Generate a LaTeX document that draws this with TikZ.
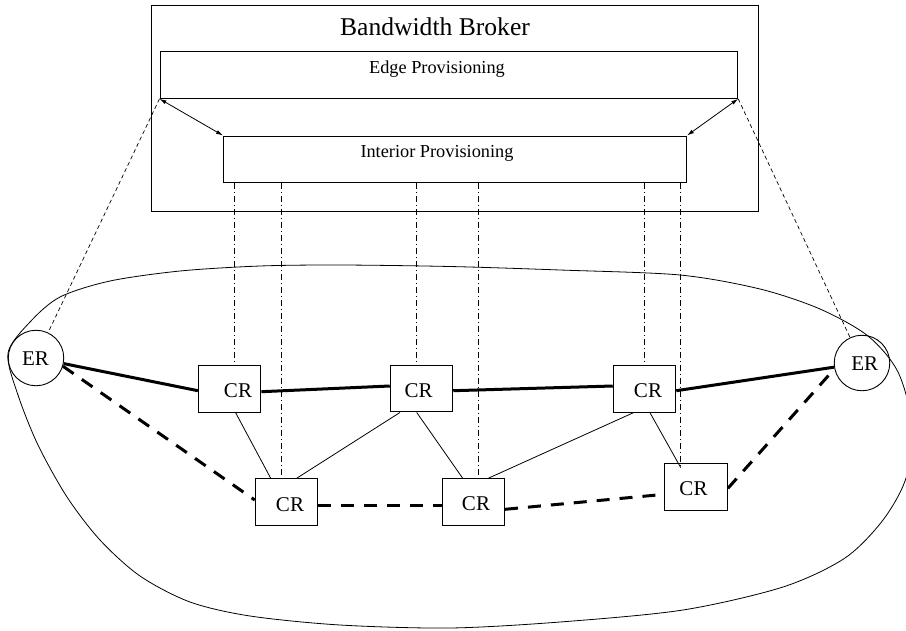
\documentclass[tikz,border=0pt]{standalone}
\usepackage{fontspec}
\setmainfont{Liberation Serif}
\usetikzlibrary{arrows.meta}

\tikzset{
  panel/.style={draw, line width=1pt, rectangle, inner sep=0pt},
  router/.style={draw, line width=1pt, rectangle, inner sep=0pt,
    minimum width=62.5pt, minimum height=46.5pt},
  edgerouter/.style={draw, line width=0.9pt, circle, inner sep=0pt,
    minimum size=55.5pt},
  routertext/.style={anchor=base, inner sep=0pt, font=\fontsize{21}{24}\selectfont},
  paneltext/.style={anchor=base, inner sep=0pt, font=\fontsize{18.3}{22}\selectfont},
  trunk/.style={line width=3pt},
  backup/.style={line width=3pt, dash pattern=on 13pt off 10pt},
  mesh/.style={line width=0.8pt},
  control/.style={line width=0.8pt, dash pattern=on 6pt off 3pt on 1pt off 3pt},
  mapping/.style={line width=0.7pt, dash pattern=on 4pt off 3pt},
  twoway/.style={line width=0.8pt, {Latex[length=7pt,width=4pt]}-{Latex[length=7pt,width=4pt]}},
}

\begin{document}
\begin{tikzpicture}[x=1pt, y=-1pt]
\useasboundingbox (0,0) rectangle (906,630);
\clip (0,0) rectangle (906,630);

% broker and its two provisioning modules
\node[panel, minimum width=607pt, minimum height=206.7pt] (broker) at (455,108.35) {};
\node[anchor=base, inner sep=0pt, font=\fontsize{25.6}{30}\selectfont] (brokertext) at (435,35) {Bandwidth Broker};
\node[panel, minimum width=577.7pt, minimum height=46.6pt] (edgeprov) at (448.85,75) {};
\node[paneltext] (edgetext) at (437,73.3) {Edge Provisioning};
\node[panel, minimum width=463pt, minimum height=46.3pt] (intprov) at (455,159.15) {};
\node[paneltext] (inttext) at (437,157.3) {Interior Provisioning};

% domain boundary
\draw[line width=0.8pt] plot[smooth cycle, tension=0.5] coordinates {
  (8,353) (30,322) (60,297) (110,281) (180,271) (260,266) (340,265)
  (450,266.5) (560,270) (680,275) (760,289) (820,309) (868,336)
  (898,372) (912,425) (906,478) (883,520) (845,558) (783,587)
  (683,610) (560,622) (450,628) (340,625) (250,616) (190,602)
  (140,576) (100,540) (67,497) (38,445) (18,395)};

% edge routers
\node[edgerouter] (erl) at (36,358) {};
\node[routertext] (erltext) at (35.5,365.7) {ER};
\node[edgerouter] (err) at (862,363) {};
\node[routertext] (errtext) at (864.8,370.7) {ER};

% core routers
\node[router] (cr1) at (229.65,389) {};
\node[routertext] (cr1text) at (238,397.7) {CR};
\node[router] (cr2) at (421.5,388.7) {};
\node[routertext] (cr2text) at (418.7,397.3) {CR};
\node[router] (cr3) at (644.5,389) {};
\node[routertext] (cr3text) at (648,397) {CR};
\node[router] (cr4) at (286.5,502) {};
\node[routertext] (cr4text) at (290,511) {CR};
\node[router] (cr5) at (473.3,502) {};
\node[routertext] (cr5text) at (476,510.7) {CR};
\node[router] (cr6) at (696.15,487) {};
\node[routertext] (cr6text) at (693.5,495) {CR};

% module interaction
\draw[twoway] (edgeprov.south west) -- (intprov.north west);
\draw[twoway] (edgeprov.south east) -- (intprov.north east);

% edge provisioning reaches the edge routers
\draw[mapping] (edgeprov.south west) -- (erl);
\draw[mapping] (edgeprov.south east) -- (err);

% interior provisioning reaches the core routers
\coordinate (v1) at ([xshift=4.75pt]cr1.north);
\coordinate (v2) at ([xshift=-5.3pt]cr4.north);
\coordinate (v3) at ([xshift=-5.6pt]cr2.north);
\coordinate (v4) at ([xshift=4.9pt]cr5.north);
\coordinate (v5) at ([xshift=-0.3pt]cr3.north);
\coordinate (v6) at ([xshift=-15.45pt, yshift=-4.3pt]cr6.north);
\foreach \v in {v1,v2,v3,v4,v5,v6}
  \draw[control] (\v |- intprov.south) -- (\v);

% primary path
\draw[trunk] (erl) -- ([yshift=-1.7pt]cr1.west);
\draw[trunk] ([yshift=-2.7pt]cr1.east) -- ([yshift=2.7pt]cr2.west);
\draw[trunk] ([yshift=-2pt]cr2.east) -- ([yshift=3pt]cr3.west);
\draw[trunk] ([yshift=-1.7pt]cr3.east) -- (err);

% backup path
\draw[backup] (erl.343) -- ([yshift=2pt]cr4.west);
\draw[backup] ([yshift=-3pt]cr4.east) -- ([yshift=-3pt]cr5.west);
\draw[backup] ([yshift=-7.3pt]cr5.east) -- ([yshift=-7.3pt]cr6.west);
\draw[backup] ([yshift=-1.3pt]cr6.east) -- (err.192);

% interior mesh
\draw[mesh] ([xshift=6pt]cr1.south) -- ([xshift=-15.8pt]cr4.north);
\draw[mesh] ([xshift=-21.5pt]cr2.south) -- ([xshift=10.2pt]cr4.north);
\draw[mesh] ([xshift=-4.8pt]cr2.south) -- ([xshift=-10.6pt]cr5.north);
\draw[mesh] ([xshift=-11.2pt]cr3.south) -- ([xshift=15pt]cr5.north);
\draw[mesh] ([xshift=5.5pt]cr3.south) -- ([xshift=-15.45pt, yshift=-4.3pt]cr6.north);
\end{tikzpicture}
\end{document}
